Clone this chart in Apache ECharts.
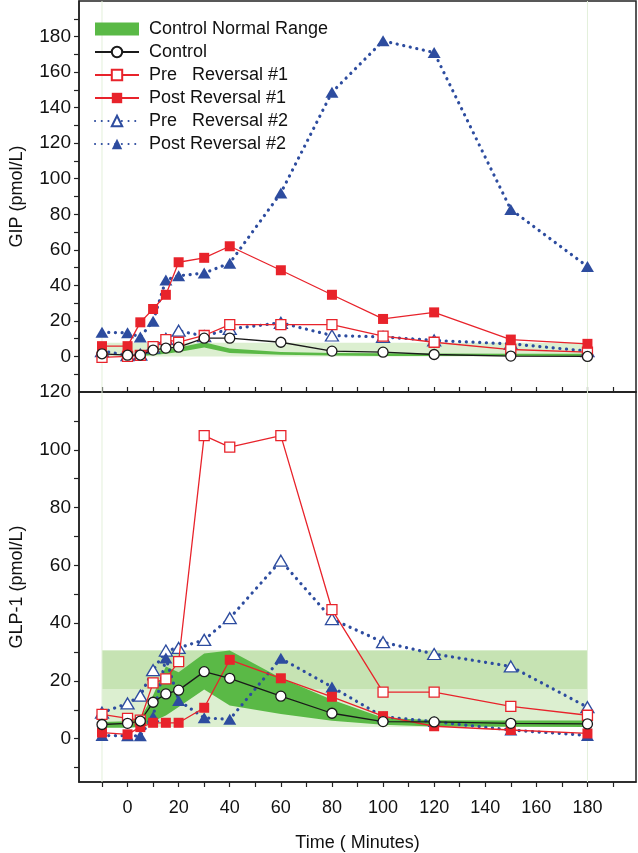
<!DOCTYPE html>
<html>
<head>
<meta charset="utf-8">
<script src="https://cdn.jsdelivr.net/npm/echarts@6/dist/echarts.min.js"></script>
<style>
html, body { margin: 0; padding: 0; background: #fff; }
#main { width: 638px; height: 853px; }
</style>
</head>
<body>
<div id="main"></div>
<script>
// sampling times (minutes)
var times = [-10, 0, 5, 10, 15, 20, 30, 40, 60, 80, 100, 120, 150, 180];

// GIP (pmol/L)
var gipControl = [1.5, 0.7, 0.8, 3.6, 4.7, 5.2, 10.3, 10.3, 8, 3, 2.4, 1.1, 0.2, 0];
var gipPre1 = [-0.5, 0, 0.6, 5.5, 9.5, 8, 11.8, 17.9, 17.9, 17.9, 11.4, 8, 3.9, 2.4];
var gipPost1 = [5.8, 5.8, 19.2, 26.7, 34.7, 53, 55.5, 62, 48.5, 34.7, 21.1, 24.8, 9.5, 7.1];
var gipPre2 = [3, 0.7, 1, 5, 9.9, 14.5, 11.4, 15.5, 18.9, 11.8, 11, 9, 7.1, 3];
var gipPost2 = [13.6, 13.3, 11, 19.8, 43, 45.4, 46.9, 52.5, 92, 148.6, 177.6, 171, 82.7, 50.6];

// GIP control normal range
var gipBandTimes = [5, 10, 15, 20, 30, 40, 60, 80, 100, 120, 150, 180];
var gipBandLow = [0.3, 0.8, 1.5, 2.5, 5, 2, 1, 0.5, 0.3, 0.2, 0.2, 0.2];
var gipBandHigh = [1, 2.5, 4, 5, 8, 4.5, 2.5, 2, 1.8, 1.6, 1.5, 1.5];
var gipRangeBox = [0, 7.7];

// GLP-1 (pmol/L)
var glpControl = [4.9, 5.3, 6.1, 12.6, 15.5, 16.8, 23.2, 20.9, 14.7, 8.8, 5.9, 5.8, 5.3, 5.1];
var glpPre1 = [8.4, 7, 6.4, 19.3, 20.7, 26.7, 104.9, 100.9, 104.9, 44.7, 16.1, 16.1, 11.2, 8.1];
var glpPost1 = [2.1, 1.5, 4, 5.5, 5.5, 5.5, 10.7, 27.3, 20.9, 14.5, 7.8, 4.3, 3, 1.8];
var glpPre2 = [9, 12.2, 14.9, 23.7, 30.5, 31.4, 34.2, 41.7, 61.6, 41.4, 33.4, 29.3, 25, 10.9];
var glpPost2 = [1.1, 1, 1, 7.6, 27.9, 13.2, 7.2, 6.7, 27.8, 17.9, 7.6, 5.9, 3, 1.1];

// GLP-1 control normal range
var glpBandTimes = times;
var glpBandLow = [3.8, 3.8, 4, 6, 8, 11, 17, 11.5, 8.5, 6.2, 4.8, 4.2, 4.1, 4];
var glpBandHigh = [5.8, 6, 7, 15, 25, 23, 29.5, 30.5, 21, 13.5, 7.2, 6.4, 6.3, 6.3];
var glpRangeBox = [4, 30.5];
var glpRangeBoxUpper = [17.2, 30.5];

var xTicks = [-10, 0, 10, 20, 30, 40, 50, 60, 70, 80, 90, 100, 110, 120, 130, 140, 150, 160, 170, 180, 190];
var xLabels = [0, 20, 40, 60, 80, 100, 120, 140, 160, 180];
var gipTicks = [-10, 0, 10, 20, 30, 40, 50, 60, 70, 80, 90, 100, 110, 120, 130, 140, 150, 160, 170, 180, 190];
var gipLabels = [0, 20, 40, 60, 80, 100, 120, 140, 160, 180];
var glpTicks = [-10, 0, 10, 20, 30, 40, 50, 60, 70, 80, 90, 100, 110];
var glpLabels = [0, 20, 40, 60, 80, 100, 120];

var RED = '#e8232b', BLUE = '#2d4c9f', BLACK = '#1a1a1a', GREEN = '#5ab946';
var FONT = 'Liberation Sans';

function pairs(vals) {
	var out = [];
	for (var i = 0; i < times.length; i++) out.push([times[i], vals[i]]);
	return out;
}

// green band (control mean range) + light boxes, drawn through the axes
function band(gi, bt, lo, hi, boxes) {
	return {
		name: 'Control Normal Range',
		type: 'custom',
		xAxisIndex: gi, yAxisIndex: gi,
		itemStyle: { color: GREEN },
		silent: true,
		data: [[0, 0]],
		z: 1,
		renderItem: function (params, api) {
			var kids = [];
			var boxFill = ['#dcefd0', '#c6e3b3'];
			for (var b = 0; b < boxes.length; b++) {
				var p1 = api.coord([-10, boxes[b][1]]);
				var p2 = api.coord([180, boxes[b][0]]);
				kids.push({ type: 'rect', shape: { x: p1[0], y: p1[1], width: p2[0] - p1[0], height: p2[1] - p1[1] }, style: { fill: boxFill[b] } });
			}
			[-10, 180].forEach(function (t) {
				var a = api.coord([t, gi === 0 ? -20 : -15]);
				var c = api.coord([t, gi === 0 ? 200 : 120]);
				kids.push({ type: 'line', shape: { x1: a[0], y1: a[1], x2: c[0], y2: c[1] }, style: { stroke: '#e3f0db', lineWidth: 1 } });
			});
			var pts = [];
			for (var i = 0; i < bt.length; i++) pts.push(api.coord([bt[i], hi[i]]));
			for (var j = bt.length - 1; j >= 0; j--) pts.push(api.coord([bt[j], lo[j]]));
			kids.push({ type: 'polygon', shape: { points: pts }, style: { fill: GREEN } });
			return { type: 'group', children: kids };
		}
	};
}

function solid(name, gi, vals, color, sym, filled) {
	return {
		name: name, type: 'line', xAxisIndex: gi, yAxisIndex: gi,
		data: pairs(vals),
		symbol: sym, symbolSize: 10,
		showSymbol: true,
		lineStyle: { color: color, width: 1.3 },
		itemStyle: { color: filled ? color : '#fff', borderColor: color, borderWidth: filled ? 0 : 1.3 },
		z: 3
	};
}

function dotted(name, gi, vals, filled) {
	return {
		name: name, type: 'line', xAxisIndex: gi, yAxisIndex: gi,
		data: pairs(vals),
		symbol: 'triangle', symbolSize: [13, 11],
		lineStyle: { color: BLUE, width: 3.2, type: [0.1, 6.6], cap: 'round' },
		itemStyle: { color: filled ? BLUE : '#fff', borderColor: BLUE, borderWidth: filled ? 0 : 1.3 },
		z: 2
	};
}

function xAx(gi) {
	return {
		type: 'value', gridIndex: gi, min: -19, max: 199,
		axisLine: { show: true, onZero: false, lineStyle: { color: '#222', width: 1.5 } },
		axisTick: { show: true, inside: gi === 0, length: 5, customValues: xTicks, lineStyle: { color: '#222', width: 1.2 } },
		axisLabel: { show: gi === 1, customValues: xLabels, fontSize: 18, fontFamily: FONT, color: '#111', margin: 17 },
		splitLine: { show: false },
		name: gi === 1 ? 'Time ( Minutes)' : '',
		nameLocation: 'middle', nameGap: 52,
		nameTextStyle: { fontSize: 18, fontFamily: FONT, color: '#111' }
	};
}

function yAx(gi, min, max, ticks, labels, name) {
	return {
		type: 'value', gridIndex: gi, min: min, max: max,
		axisLine: { show: true, onZero: false, lineStyle: { color: '#222', width: 1.5 } },
		axisTick: { show: true, length: 5, customValues: ticks, lineStyle: { color: '#222', width: 1.2 } },
		axisLabel: { customValues: labels, fontSize: 19, fontFamily: FONT, color: '#111', margin: 8 },
		splitLine: { show: false },
		name: name, nameLocation: 'middle', nameRotate: 90, nameGap: 53,
		nameTextStyle: { fontSize: 18, fontFamily: FONT, color: '#111' }
	};
}

var option = {
	animation: false,
	backgroundColor: '#fff',
	grid: [
		{ left: 78, right: 2, top: 1, height: 391, show: true, borderColor: '#222', borderWidth: 1.5 },
		{ left: 78, right: 2, top: 392, height: 390, show: true, borderColor: '#222', borderWidth: 1.5 }
	],
	legend: {
		orient: 'vertical', left: 89, top: 15,
		itemWidth: 44, itemHeight: 13, itemGap: 5,
		textStyle: { fontSize: 18, fontFamily: FONT, color: '#111', padding: [0, 0, 0, 5] },
		data: [
			{ name: 'Control Normal Range', icon: 'rect' },
			'Control', 'Pre   Reversal #1', 'Post Reversal #1', 'Pre   Reversal #2', 'Post Reversal #2'
		]
	},
	xAxis: [xAx(0), xAx(1)],
	yAxis: [
		yAx(0, -20, 200, gipTicks, gipLabels, 'GIP (pmol/L)'),
		yAx(1, -15, 120, glpTicks, glpLabels, 'GLP-1 (pmol/L)')
	],
	series: [
		band(0, gipBandTimes, gipBandLow, gipBandHigh, [gipRangeBox]),
		dotted('Pre   Reversal #2', 0, gipPre2, false),
		dotted('Post Reversal #2', 0, gipPost2, true),
		solid('Pre   Reversal #1', 0, gipPre1, RED, 'rect', false),
		solid('Post Reversal #1', 0, gipPost1, RED, 'rect', true),
		solid('Control', 0, gipControl, BLACK, 'circle', false),

		band(1, glpBandTimes, glpBandLow, glpBandHigh, [glpRangeBox, glpRangeBoxUpper]),
		dotted('Pre   Reversal #2', 1, glpPre2, false),
		dotted('Post Reversal #2', 1, glpPost2, true),
		solid('Pre   Reversal #1', 1, glpPre1, RED, 'rect', false),
		solid('Post Reversal #1', 1, glpPost1, RED, 'rect', true),
		solid('Control', 1, glpControl, BLACK, 'circle', false)
	]
};

var chart = echarts.init(document.getElementById('main'));
chart.setOption(option);
window.onresize = chart.resize;
</script>
</body>
</html>
